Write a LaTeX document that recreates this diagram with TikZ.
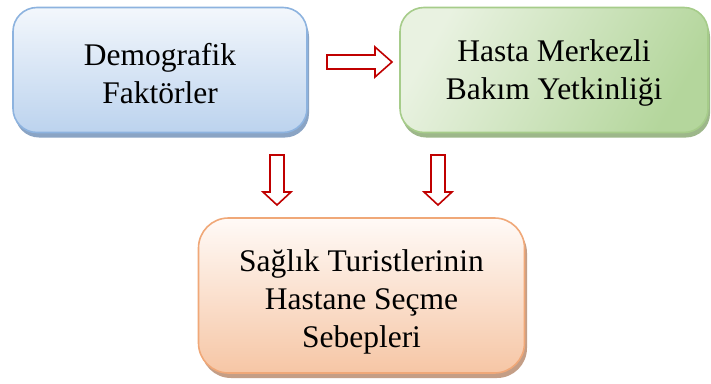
\documentclass[tikz,border=0pt]{standalone}
\usepackage{fontspec}
\setmainfont{Liberation Serif}
\usetikzlibrary{shadows}
\definecolor{bluetop}{HTML}{F3F7FC}
\definecolor{bluebot}{HTML}{BCD3EE}
\definecolor{blueline}{HTML}{8DB3DF}
\definecolor{blueshadow}{HTML}{8AA4C4}
\definecolor{greenA}{HTML}{B4D69C}
\definecolor{greenB}{HTML}{E9F2E1}
\definecolor{greenline}{HTML}{A6CC8A}
\definecolor{greenshadow}{HTML}{9DB78A}
\definecolor{orangetop}{HTML}{FFFAF7}
\definecolor{orangebot}{HTML}{F6C6A5}
\definecolor{orangeline}{HTML}{F0A878}
\definecolor{orangeshadow}{HTML}{C49E86}
\definecolor{arrowred}{HTML}{C00000}
\tikzset{
  boxbase/.style={rounded corners=24pt, line width=1.6pt, inner sep=0pt},
  boxtext/.style={align=center, font=\fontsize{31.5}{38}\selectfont, inner sep=0pt},
  bluebox/.style={boxbase, draw=blueline, top color=bluetop, bottom color=bluebot,
    drop shadow={shadow xshift=2pt, shadow yshift=-5pt, fill=blueshadow, opacity=1}},
  greenbox/.style={boxbase, draw=greenline, shading=axis, left color=greenB, right color=greenA, shading angle=60,
    drop shadow={shadow xshift=2pt, shadow yshift=-5pt, fill=greenshadow, opacity=1}},
  orangebox/.style={boxbase, draw=orangeline, top color=orangetop, bottom color=orangebot, rounded corners=30pt,
    drop shadow={shadow xshift=2.5pt, shadow yshift=-5pt, fill=orangeshadow, opacity=1}},
  blockarrow/.style={draw=arrowred, fill=white, line width=1.6pt, line join=miter}
}
\begin{document}
\begin{tikzpicture}[x=1pt,y=-1pt]
\useasboundingbox (0,0) rectangle (711,383);
\fill[white] (0,0) rectangle (711,383);
% boxes
\node[bluebox, minimum width=294pt, minimum height=125pt] (demo) at (160,70) {};
\node[greenbox, minimum width=308pt, minimum height=125pt] (hasta) at (554,70) {};
\node[orangebox, minimum width=326pt, minimum height=155pt] (saglik) at (361.5,295.5) {};
\node[boxtext] (demotext) at ([yshift=-4pt]demo.center) {Demografik\\Faktörler};
\node[boxtext] (hastatext) at ([yshift=-3pt]hasta.center) {Hasta Merkezli\\Bakım Yetkinliği};
\node[boxtext] (sagliktext) at ([yshift=-6pt]saglik.center) {Sağlık Turistlerinin\\Hastane Seçme\\Sebepleri};
% right arrow
\coordinate (ra) at (327,62);
\draw[blockarrow] (ra) ++(0,-7) -- ++(48,0) -- ++(0,-8) -- ++(17,15) -- ++(-17,15) -- ++(0,-8) -- ++(-48,0) -- cycle;
% down arrows
\coordinate (da1) at (277,155);
\coordinate (da2) at (438,155);
\foreach \c in {da1,da2}{
  \draw[blockarrow] (\c) ++(-7,0) -- ++(14,0) -- ++(0,37) -- ++(7,0) -- ++(-14,13) -- ++(-14,-13) -- ++(7,0) -- cycle;
}
\end{tikzpicture}
\end{document}
